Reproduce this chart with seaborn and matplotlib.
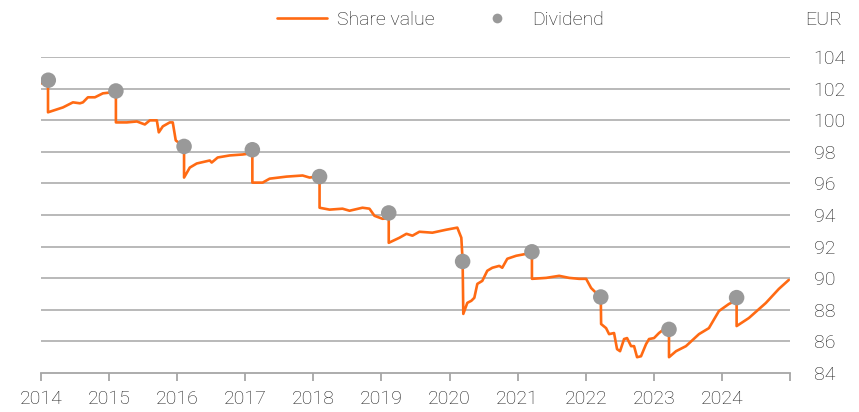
import matplotlib
matplotlib.use("Agg")
import matplotlib.pyplot as plt
import seaborn as sns
import pandas as pd
from matplotlib.lines import Line2D

# ---- data (decimal years, EUR) ----
share_years = [
    2014.000, 2014.103, 2014.103, 2014.323, 2014.469, 2014.572, 2014.616, 2014.689, 2014.792, 2014.909,
    2015.056, 2015.100, 2015.100, 2015.261, 2015.408, 2015.525, 2015.598, 2015.701, 2015.730, 2015.789,
    2015.891, 2015.935, 2015.979, 2016.038, 2016.101, 2016.101, 2016.185, 2016.287, 2016.478, 2016.507,
    2016.595, 2016.771, 2016.962, 2017.065, 2017.104, 2017.104, 2017.255, 2017.358, 2017.607, 2017.842,
    2017.944, 2018.062, 2018.091, 2018.091, 2018.238, 2018.428, 2018.531, 2018.721, 2018.824, 2018.897,
    2019.015, 2019.107, 2019.107, 2019.264, 2019.367, 2019.455, 2019.557, 2019.748, 2019.953, 2020.114,
    2020.173, 2020.192, 2020.202, 2020.261, 2020.320, 2020.364, 2020.408, 2020.481, 2020.554, 2020.628,
    2020.730, 2020.774, 2020.848, 2020.979, 2021.126, 2021.210, 2021.210, 2021.419, 2021.610, 2021.757,
    2021.903, 2022.006, 2022.079, 2022.152, 2022.221, 2022.226, 2022.299, 2022.343, 2022.416, 2022.460,
    2022.504, 2022.563, 2022.607, 2022.666, 2022.710, 2022.754, 2022.812, 2022.886, 2022.930, 2023.003,
    2023.076, 2023.150, 2023.223, 2023.223, 2023.326, 2023.472, 2023.663, 2023.809, 2023.956, 2024.103,
    2024.216, 2024.216, 2024.396, 2024.645, 2024.836, 2024.982,
]
share_values = [
    102.34, 102.34, 100.50, 100.81, 101.13, 101.07, 101.13, 101.45, 101.45, 101.70,
    101.77, 101.77, 99.86, 99.86, 99.92, 99.73, 99.99, 99.99, 99.23, 99.61,
    99.86, 99.86, 98.72, 98.53, 98.40, 96.37, 97.00, 97.26, 97.45, 97.32,
    97.64, 97.77, 97.83, 97.89, 97.95, 96.05, 96.05, 96.30, 96.43, 96.50,
    96.37, 96.43, 96.43, 94.46, 94.34, 94.40, 94.27, 94.46, 94.40, 93.95,
    93.76, 93.80, 92.24, 92.56, 92.81, 92.69, 92.94, 92.88, 93.07, 93.20,
    92.56, 91.10, 87.74, 88.44, 88.57, 88.76, 89.64, 89.83, 90.47, 90.66,
    90.78, 90.66, 91.23, 91.42, 91.54, 91.60, 89.96, 90.02, 90.15, 90.02,
    89.96, 89.96, 89.38, 89.07, 88.80, 87.10, 86.84, 86.46, 86.53, 85.51,
    85.38, 86.15, 86.21, 85.70, 85.70, 85.00, 85.06, 85.83, 86.15, 86.21,
    86.53, 86.78, 86.78, 85.00, 85.38, 85.70, 86.46, 86.84, 87.92, 88.37,
    88.60, 86.97, 87.48, 88.43, 89.32, 89.89,
]
div_years = [2014.107, 2015.100, 2016.101, 2017.104, 2018.091, 2019.107,
             2020.192, 2021.210, 2022.221, 2023.223, 2024.216]
div_values = [102.53, 101.85, 98.34, 98.13, 96.43, 94.13,
              91.06, 91.67, 88.81, 86.76, 88.77]
year_ticks = list(range(2014, 2026))
year_labels = [str(y) for y in range(2014, 2025)] + [""]
y_ticks = list(range(84, 105, 2))

share_df = pd.DataFrame({"year": share_years, "value": share_values})
div_df = pd.DataFrame({"year": div_years, "value": div_values})

sns.set_theme(style="white")
plt.rcParams["font.family"] = ["Roboto", "DejaVu Sans"]
plt.rcParams["font.weight"] = "light"

ORANGE = "#FF6A13"
GREY = "#999999"
TXT = "#1f1f1f"

fig = plt.figure(figsize=(8.59, 4.12), dpi=100)
ax = fig.add_axes([41/859, 1-373/412, (790-41)/859, (373-57)/412])

sns.lineplot(data=share_df, x="year", y="value", sort=False, estimator=None,
             color=ORANGE, linewidth=1.9, ax=ax, zorder=3)
sns.scatterplot(data=div_df, x="year", y="value", color=GREY, s=125,
                edgecolor="none", ax=ax, zorder=4)

ax.set_xlim(2014, 2025)
ax.set_ylim(84, 104)
ax.set_xticks(year_ticks)
ax.set_xticklabels(year_labels)
ax.set_yticks(y_ticks)
ax.yaxis.tick_right()
ax.set_xlabel("")
ax.set_ylabel("")

for y in y_ticks[1:]:
    ax.axhline(y, color="#b3b3b3", linewidth=1.3, zorder=1)

for s in ["top", "right", "left"]:
    ax.spines[s].set_visible(False)
ax.spines["bottom"].set_color("#a6a6a6")
ax.spines["bottom"].set_linewidth(1.3)

ax.tick_params(axis="x", which="both", bottom=True, length=6, width=1.3,
               color="#a6a6a6", labelsize=14, labelcolor=TXT, pad=6)
ax.tick_params(axis="y", which="both", right=False, left=False, length=0,
               labelsize=14, labelcolor=TXT, pad=17)

fig.text(805/859, 1-20/412, "EUR", fontsize=14, color=TXT, ha="left", va="center")

handles = [Line2D([0], [0], color=ORANGE, linewidth=1.9),
           Line2D([0], [0], marker="o", color="none", markerfacecolor=GREY,
                  markeredgecolor="none", markersize=7)]
fig.legend(handles, ["Share value", "Dividend"], loc="center",
           bbox_to_anchor=(440/859, 1-20/412), ncol=2, frameon=False,
           fontsize=14, labelcolor=TXT, handlelength=2.6, handletextpad=0.5,
           columnspacing=1.9)

fig.savefig("out.png", dpi=100)
